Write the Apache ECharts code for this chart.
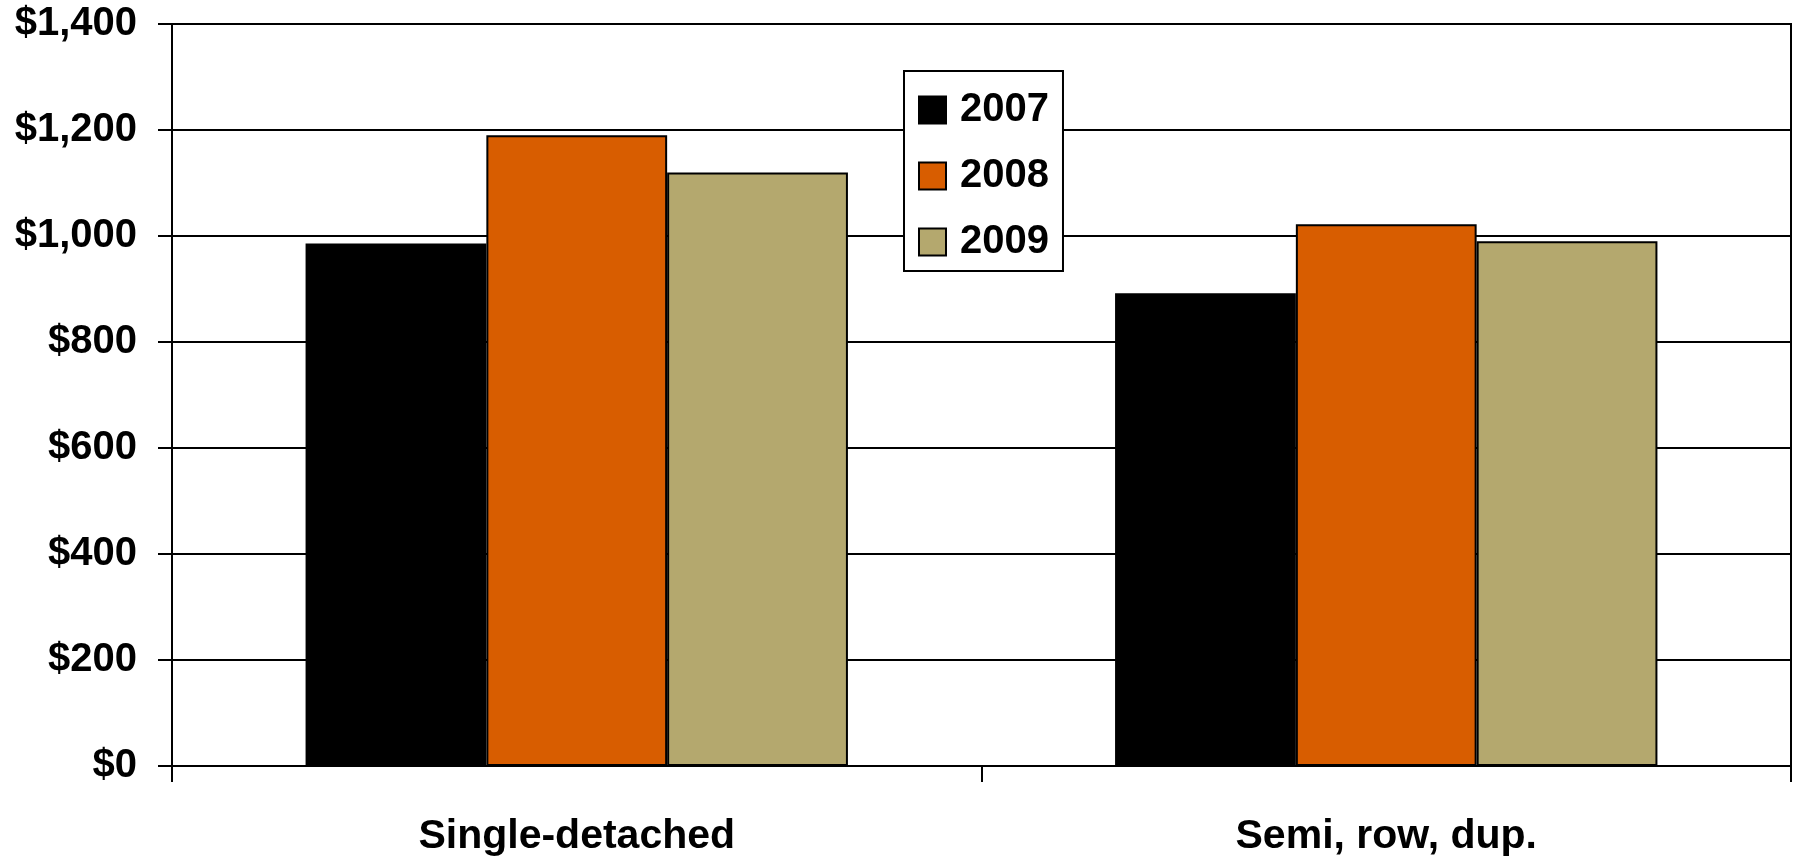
<!DOCTYPE html>
<html>
<head>
<meta charset="utf-8">
<style>
  html, body { margin: 0; padding: 0; background: #fff; }
  #chart { width: 1797px; height: 862px; }
</style>
<script src="https://cdn.jsdelivr.net/npm/echarts@6/dist/echarts.min.js"></script>
</head>
<body>
<div id="chart"></div>
<script>
// Dwelling types and the yearly values for each
const categories = ['Single-detached', 'Semi, row, dup.'];
const years = ['2007', '2008', '2009'];
const values2007 = [986, 892];
const values2008 = [1190, 1022];
const values2009 = [1120, 990];
const yTicks = [0, 200, 400, 600, 800, 1000, 1200, 1400];

const seriesValues = [values2007, values2008, values2009];
const colors = ['#000000', '#D85D00', '#B4A86E'];
const FONT = '"Liberation Sans", Arial, sans-serif';

const chart = echarts.init(document.getElementById('chart'), null, { renderer: 'canvas' });

chart.setOption({
  animation: false,
  backgroundColor: '#ffffff',
  grid: {
    left: 172, right: 6, top: 24, bottom: 96,
    show: true, borderColor: '#000', borderWidth: 2, backgroundColor: 'transparent'
  },
  legend: {
    orient: 'vertical',
    left: 904, top: 71,
    width: 157,
    backgroundColor: '#fff',
    borderColor: '#000', borderWidth: 2,
    padding: [19, 14, 9, 14],
    itemGap: 26,
    itemWidth: 27, itemHeight: 27,
    icon: 'rect',
    itemStyle: { borderColor: '#000', borderWidth: 2 },
    textStyle: {
      fontFamily: FONT, fontWeight: 'bold', fontSize: 40, lineHeight: 40,
      color: '#000', padding: [0, 0, 0, 9]
    },
    data: years
  },
  xAxis: {
    type: 'category',
    data: categories,
    axisLine: { show: true, lineStyle: { color: '#000', width: 2 } },
    axisTick: { show: true, length: 16, interval: 0, lineStyle: { color: '#000', width: 2 } },
    axisLabel: {
      interval: 0, margin: 50,
      fontFamily: FONT, fontWeight: 'bold', fontSize: 41, color: '#000'
    }
  },
  yAxis: {
    type: 'value',
    min: yTicks[0], max: yTicks[yTicks.length - 1], interval: 200,
    axisLine: { show: true, lineStyle: { color: '#000', width: 2 } },
    axisTick: { show: true, length: 14, lineStyle: { color: '#000', width: 2 } },
    splitLine: { show: true, lineStyle: { color: '#000', width: 2 } },
    axisLabel: {
      margin: 35,
      fontFamily: FONT, fontWeight: 'bold', fontSize: 40, color: '#000',
      formatter: v => '$' + v.toString().replace(/\B(?=(\d{3})+(?!\d))/g, ',')
    }
  },
  series: years.map((y, i) => ({
    name: y,
    type: 'bar',
    data: seriesValues[i],
    barGap: '0%',
    barCategoryGap: '33%',
    itemStyle: { color: colors[i], borderColor: '#000', borderWidth: 2 },
    emphasis: { disabled: true }
  }))
});
</script>
</body>
</html>
